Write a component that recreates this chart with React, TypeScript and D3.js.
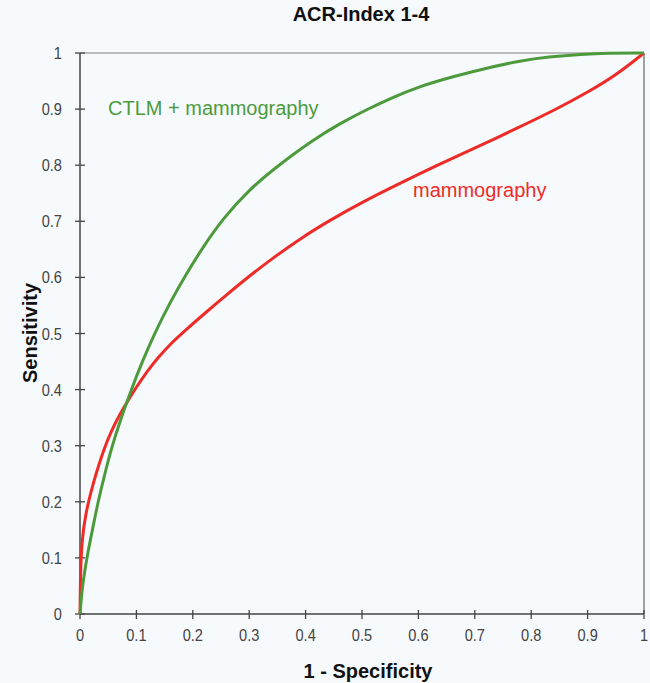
import React from "react";
import * as d3 from "d3";

const ticks = [0, 0.1, 0.2, 0.3, 0.4, 0.5, 0.6, 0.7, 0.8, 0.9, 1];
const tickLabels = ["0", "0.1", "0.2", "0.3", "0.4", "0.5", "0.6", "0.7", "0.8", "0.9", "1"];

// CTLM + mammography ROC (1 - specificity, sensitivity)
const greenFpr = [0, 0.002, 0.005, 0.012, 0.022, 0.032, 0.044, 0.057, 0.073, 0.091, 0.11, 0.132, 0.16, 0.187, 0.22, 0.252, 0.3, 0.352, 0.41, 0.46, 0.51, 0.55, 0.6, 0.665, 0.729, 0.78, 0.83, 0.89, 0.935, 1.0];
const greenTpr = [0, 0.025, 0.055, 0.1, 0.15, 0.2, 0.25, 0.3, 0.35, 0.4, 0.449, 0.5, 0.556, 0.604, 0.657, 0.703, 0.757, 0.8, 0.843, 0.874, 0.9, 0.919, 0.94, 0.959, 0.975, 0.986, 0.993, 0.998, 1.0, 1.0];

// mammography ROC
const redFpr = [0, 0.001, 0.003, 0.006, 0.01, 0.015, 0.024, 0.034, 0.043, 0.055, 0.07, 0.085, 0.097, 0.12, 0.14, 0.16, 0.186, 0.22, 0.26, 0.297, 0.34, 0.39, 0.445, 0.5, 0.57, 0.64, 0.71, 0.775, 0.845, 0.9, 0.95, 1.0];
const redTpr = [0, 0.08, 0.12, 0.15, 0.176, 0.2, 0.235, 0.268, 0.295, 0.325, 0.355, 0.38, 0.4, 0.434, 0.459, 0.481, 0.505, 0.535, 0.569, 0.6, 0.633, 0.669, 0.703, 0.734, 0.769, 0.803, 0.835, 0.866, 0.9, 0.93, 0.96, 1.0];

const title = "ACR-Index 1-4";
const xTitle = "1 - Specificity";
const yTitle = "Sensitivity";
const greenLabel = "CTLM + mammography";
const redLabel = "mammography";

const W = 650;
const H = 683;
const L = 80, R = 644, T = 53, B = 614;
const GREEN = "#4d9a3d";
const RED = "#ee2b27";
const BG = "#f6fafc";
const FONT = "'Liberation Sans', Arial, sans-serif";

export default function App() {
  const x = d3.scaleLinear().domain([0, 1]).range([L, R]);
  const y = d3.scaleLinear().domain([0, 1]).range([B, T]);
  const gen = d3
    .line<[number, number]>()
    .x((d) => x(d[0]))
    .y((d) => y(d[1]))
    .curve(d3.curveBasis);
  const green: [number, number][] = greenFpr.map((v, i) => [v, greenTpr[i]]);
  const red: [number, number][] = redFpr.map((v, i) => [v, redTpr[i]]);

  return (
    <svg
      width={W}
      height={H}
      style={{ position: "absolute", left: 0, top: 0, display: "block" }}
    >
      <rect x={0} y={0} width={W} height={H} fill={BG} />
      {/* frame */}
      <line x1={L} y1={T} x2={R} y2={T} stroke="#a8a8a8" strokeWidth={1.5} />
      <line x1={R} y1={T} x2={R} y2={B} stroke="#a0a0a0" strokeWidth={2} />
      {/* axes */}
      <line x1={L} y1={T} x2={L} y2={B} stroke="#444" strokeWidth={1.5} />
      <line x1={L} y1={B} x2={R} y2={B} stroke="#444" strokeWidth={1.5} />
      {ticks.map((t, i) => (
        <g key={"y" + i}>
          <line x1={L - 5} x2={L + 5} y1={y(t)} y2={y(t)} stroke="#444" strokeWidth={1.3} />
          <text
            transform={`translate(${L - 18}, ${y(t) + 6}) scale(0.86, 1)`}
            textAnchor="end"
            fontFamily={FONT}
            fontSize={17}
            fill="#444"
          >
            {tickLabels[i]}
          </text>
        </g>
      ))}
      {ticks.map((t, i) => (
        <g key={"x" + i}>
          <line x1={x(t)} x2={x(t)} y1={B - 4} y2={B + 5} stroke="#444" strokeWidth={1.3} />
          <text
            transform={`translate(${x(t)}, ${B + 27}) scale(0.86, 1)`}
            textAnchor="middle"
            fontFamily={FONT}
            fontSize={17}
            fill="#444"
          >
            {tickLabels[i]}
          </text>
        </g>
      ))}
      {/* curves */}
      <path d={gen(red) || ""} fill="none" stroke={RED} strokeWidth={3} strokeLinejoin="round" />
      <path d={gen(green) || ""} fill="none" stroke={GREEN} strokeWidth={3} strokeLinejoin="round" />
      {/* labels */}
      <text x={108} y={115} fontFamily={FONT} fontSize={20} fill={GREEN}>
        {greenLabel}
      </text>
      <text x={413} y={197} fontFamily={FONT} fontSize={20} fill={RED}>
        {redLabel}
      </text>
      {/* titles */}
      <text x={361} y={21} textAnchor="middle" fontFamily={FONT} fontWeight="bold" fontSize={20} fill="#111">
        {title}
      </text>
      <text x={368} y={678} textAnchor="middle" fontFamily={FONT} fontWeight="bold" fontSize={20} fill="#111">
        {xTitle}
      </text>
      <text
        transform={`translate(37, ${333}) rotate(-90)`}
        textAnchor="middle"
        fontFamily={FONT}
        fontWeight="bold"
        fontSize={20}
        fill="#111"
      >
        {yTitle}
      </text>
    </svg>
  );
}
